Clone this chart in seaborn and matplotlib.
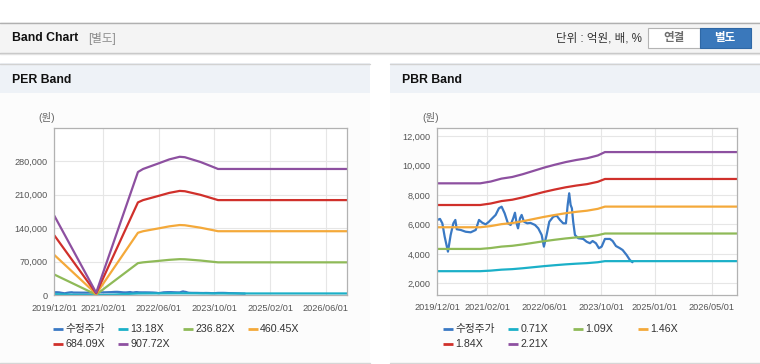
import matplotlib
matplotlib.use("Agg")
import matplotlib.pyplot as plt
from matplotlib.patches import Rectangle, FancyBboxPatch
from matplotlib.lines import Line2D
import seaborn as sns
import pandas as pd
import numpy as np

sns.set_style("white")
plt.rcParams['font.family'] = ['Liberation Sans', 'Noto Sans CJK KR']

# ---------------- data ----------------
price_dates = ["2019-12-01","2019-12-24","2020-01-13","2020-02-02","2020-03-01","2020-03-24","2020-04-16",
               "2020-05-03","2020-05-15","2020-06-18","2020-07-30","2020-09-11","2020-10-24","2020-11-21",
               "2020-12-19","2021-01-17","2021-02-14","2021-03-14","2021-04-12","2021-05-10","2021-06-02",
               "2021-06-28","2021-07-26","2021-08-18","2021-09-09","2021-09-24","2021-10-08","2021-10-20",
               "2021-11-06","2021-11-20","2021-12-10","2022-01-07","2022-02-03","2022-03-14","2022-04-11",
               "2022-05-10","2022-05-29","2022-06-21","2022-07-14","2022-08-17","2022-09-15","2022-10-13",
               "2022-11-10","2022-12-03","2022-12-18","2022-12-31","2023-01-12","2023-01-23","2023-02-03",
               "2023-02-18","2023-03-18","2023-04-30","2023-05-29","2023-06-26","2023-07-19","2023-08-16",
               "2023-09-11","2023-10-04","2023-11-01","2023-12-14","2024-01-06","2024-02-03","2024-03-08",
               "2024-03-31","2024-05-04","2024-06-01","2024-06-23"]
price = [6300, 6370, 6070, 5160, 4150, 5280, 6070,
         6300, 5670, 5620, 5500, 5460, 5620, 6300,
         6110, 6000, 6180, 6410, 6640, 7090, 7200,
         6750, 6070, 5960, 6410, 6790, 6070, 5730,
         6410, 6640, 6180, 6070, 6100, 5960, 5730,
         5280, 4490, 5280, 6180, 6520, 6590, 6300,
         6070, 6070, 7320, 8110, 7320, 7090, 6180,
         5280, 5060, 5010, 4820, 4720, 4870, 4720,
         4380, 4490, 5010, 5010, 4870, 4530, 4380,
         4260, 3920, 3580, 3430]

# EPS path behind the PER bands
eps_dates = ["2019-12-01","2020-12-01","2021-12-01","2022-01-15","2022-06-01","2022-09-01","2022-12-01",
             "2023-01-15","2023-06-01","2023-09-15","2023-11-01","2026-12-05"]
eps = [182.7, 6, 283, 290, 303, 312, 318, 317, 306, 295, 290, 290]
per_multiples = [13.18, 236.82, 460.45, 684.09, 907.72]
per_labels = ["13.18X", "236.82X", "460.45X", "684.09X", "907.72X"]

# BPS path behind the PBR bands
bps_dates = ["2019-12-01","2020-12-01","2021-03-01","2021-06-01","2021-09-01","2021-12-01","2022-03-01",
             "2022-06-01","2022-09-01","2022-12-01","2023-03-01","2023-06-01","2023-09-01","2023-11-01",
             "2026-12-05"]
bps = [3975, 3975, 4030, 4120, 4170, 4257, 4357, 4459, 4548, 4628, 4692, 4745, 4831, 4935, 4935]
pbr_multiples = [0.71, 1.09, 1.46, 1.84, 2.21]
pbr_labels = ["0.71X", "1.09X", "1.46X", "1.84X", "2.21X"]

price_label = "수정주가"
colors = ["#3a79c4", "#1bb0c8", "#8fba58", "#f4a93a", "#d0302b", "#8d50a0"]

per_yticks = [0, 70000, 140000, 210000, 280000]
pbr_yticks = [2000, 4000, 6000, 8000, 10000, 12000]
per_xticks = ["2019-12-01", "2021-02-01", "2022-06-01", "2023-10-01", "2025-02-01", "2026-06-01"]
pbr_xticks = ["2019-12-01", "2021-02-01", "2022-06-01", "2023-10-01", "2025-01-01", "2026-05-01"]


def build(per_share_dates, per_share, mults, labels):
    rows = [pd.DataFrame({"date": pd.to_datetime(price_dates), "value": price, "series": price_label})]
    for m, lab in zip(mults, labels):
        rows.append(pd.DataFrame({"date": pd.to_datetime(per_share_dates),
                                  "value": np.array(per_share) * m, "series": lab}))
    return pd.concat(rows, ignore_index=True)


per_df = build(eps_dates, eps, per_multiples, per_labels)
pbr_df = build(bps_dates, bps, pbr_multiples, pbr_labels)

# ---------------- figure / chrome ----------------
W, H = 760, 364
fig = plt.figure(figsize=(W / 100, H / 100), dpi=100)
fig.patch.set_facecolor("white")


def rect(x0, y0, x1, y1, fc, ec="none", lw=0, z=0):
    fig.add_artist(Rectangle((x0 / W, 1 - y1 / H), (x1 - x0) / W, (y1 - y0) / H,
                             transform=fig.transFigure, facecolor=fc, edgecolor=ec, lw=lw, zorder=z))


def hline(y, x0, x1, color, lw=1.0):
    fig.add_artist(Line2D([x0 / W, x1 / W], [1 - y / H, 1 - y / H], transform=fig.transFigure,
                          color=color, lw=lw, zorder=1))


def txt(x, y, s, **kw):
    fig.text(x / W, 1 - y / H, s, **kw)


# header bar
rect(0, 22.5, W, 53, "#f4f4f4")
hline(22.5, 0, W, "#b0b0b0", 1.0)
hline(53, 0, W, "#c4c4c4", 1.0)
hline(54.2, 0, W, "#e2e2e2", 1.0)
txt(12, 38, "Band Chart", fontsize=8.8, fontweight="bold", color="#111111", va="center", ha="left")
txt(88, 38.5, "[별도]", fontsize=8.3, color="#8c8c8c", va="center", ha="left")
txt(641.5, 38.5, "단위 : 억원, 배, %", fontsize=8.3, color="#333333", va="center", ha="right")
# buttons
rect(648, 28.5, 700, 47.5, "white", ec="#b4b4b4", lw=0.8, z=2)
rect(700, 28.5, 750.5, 47.5, "#3a78bb", ec="#2f68a6", lw=0.8, z=2)
txt(674, 38.5, "연결", fontsize=8.3, fontweight="bold", color="#6e6e6e", va="center", ha="center", zorder=3)
txt(725, 38.5, "별도", fontsize=8.3, fontweight="bold", color="white", va="center", ha="center", zorder=3)

# panels
for (x0, x1, title) in [(0, 370, "PER Band"), (390, 760, "PBR Band")]:
    rect(x0, 63.5, x1, 93, "#eef2f7")
    rect(x0, 93, x1, 362.8, "#fcfcfc")
    hline(63.5, x0, x1, "#d2d2d2", 1.0)
    hline(363.2, x0, x1, "#d6d6d6", 1.0)
    txt(x0 + 12, 80, title, fontsize=8.8, fontweight="bold", color="#111111", va="center", ha="left")

txt(38, 117.5, "(원)", fontsize=7.5, color="#666666", va="center", ha="left")
txt(422, 117.5, "(원)", fontsize=7.5, color="#666666", va="center", ha="left")

# ---------------- axes ----------------
xlim = (pd.Timestamp("2019-12-01"), pd.Timestamp("2026-12-05"))


def make_ax(left, right, top, bottom, df, ylim, yticks, xticks, legend_x0, labels):
    ax = fig.add_axes([left / W, 1 - bottom / H, (right - left) / W, (bottom - top) / H])
    ax.set_facecolor("white")
    sns.lineplot(data=df, x="date", y="value", hue="series", palette=colors, ax=ax,
                 legend=False, linewidth=1.6, estimator=None)
    ax.set_xlim(*xlim)
    ax.set_ylim(*ylim)
    ax.set_yticks(yticks)
    ax.set_yticklabels([f"{v:,}" for v in yticks])
    xt = pd.to_datetime(xticks)
    ax.set_xticks(xt)
    ax.set_xticklabels([d.strftime("%Y/%m/%d") for d in xt])
    ax.grid(True, color="#e6e6e6", lw=0.8)
    ax.set_axisbelow(True)
    for s in ax.spines.values():
        s.set_color("#b2b2b2")
        s.set_linewidth(0.9)
    ax.tick_params(axis="y", length=0, pad=5, labelsize=6.6, labelcolor="#555555")
    ax.tick_params(axis="x", length=3, color="#b2b2b2", pad=3, labelsize=6.6, labelcolor="#555555")
    ax.set_xlabel("")
    ax.set_ylabel("")
    # legend: fixed-width columns
    names = [price_label] + labels
    for i, (name, c) in enumerate(zip(names, colors)):
        row, col = divmod(i, 4)
        hx = legend_x0 + col * 65
        hy = 329.3 + row * 15
        fig.add_artist(Line2D([hx / W, (hx + 10.5) / W], [1 - hy / H, 1 - hy / H],
                              transform=fig.transFigure, color=c, lw=2.0, solid_capstyle="butt"))
        txt(hx + 12.5, hy, name, fontsize=7.7, color="#333333", va="center", ha="left")
    return ax


make_ax(54.3, 347.3, 128.3, 295.3, per_df, (0, 348000), per_yticks, per_xticks, 52.7, per_labels)
make_ax(437.3, 737.3, 128.3, 295.0, pbr_df, (1206, 12520), pbr_yticks, pbr_xticks, 442.7, pbr_labels)

fig.savefig("out.png", dpi=100)
